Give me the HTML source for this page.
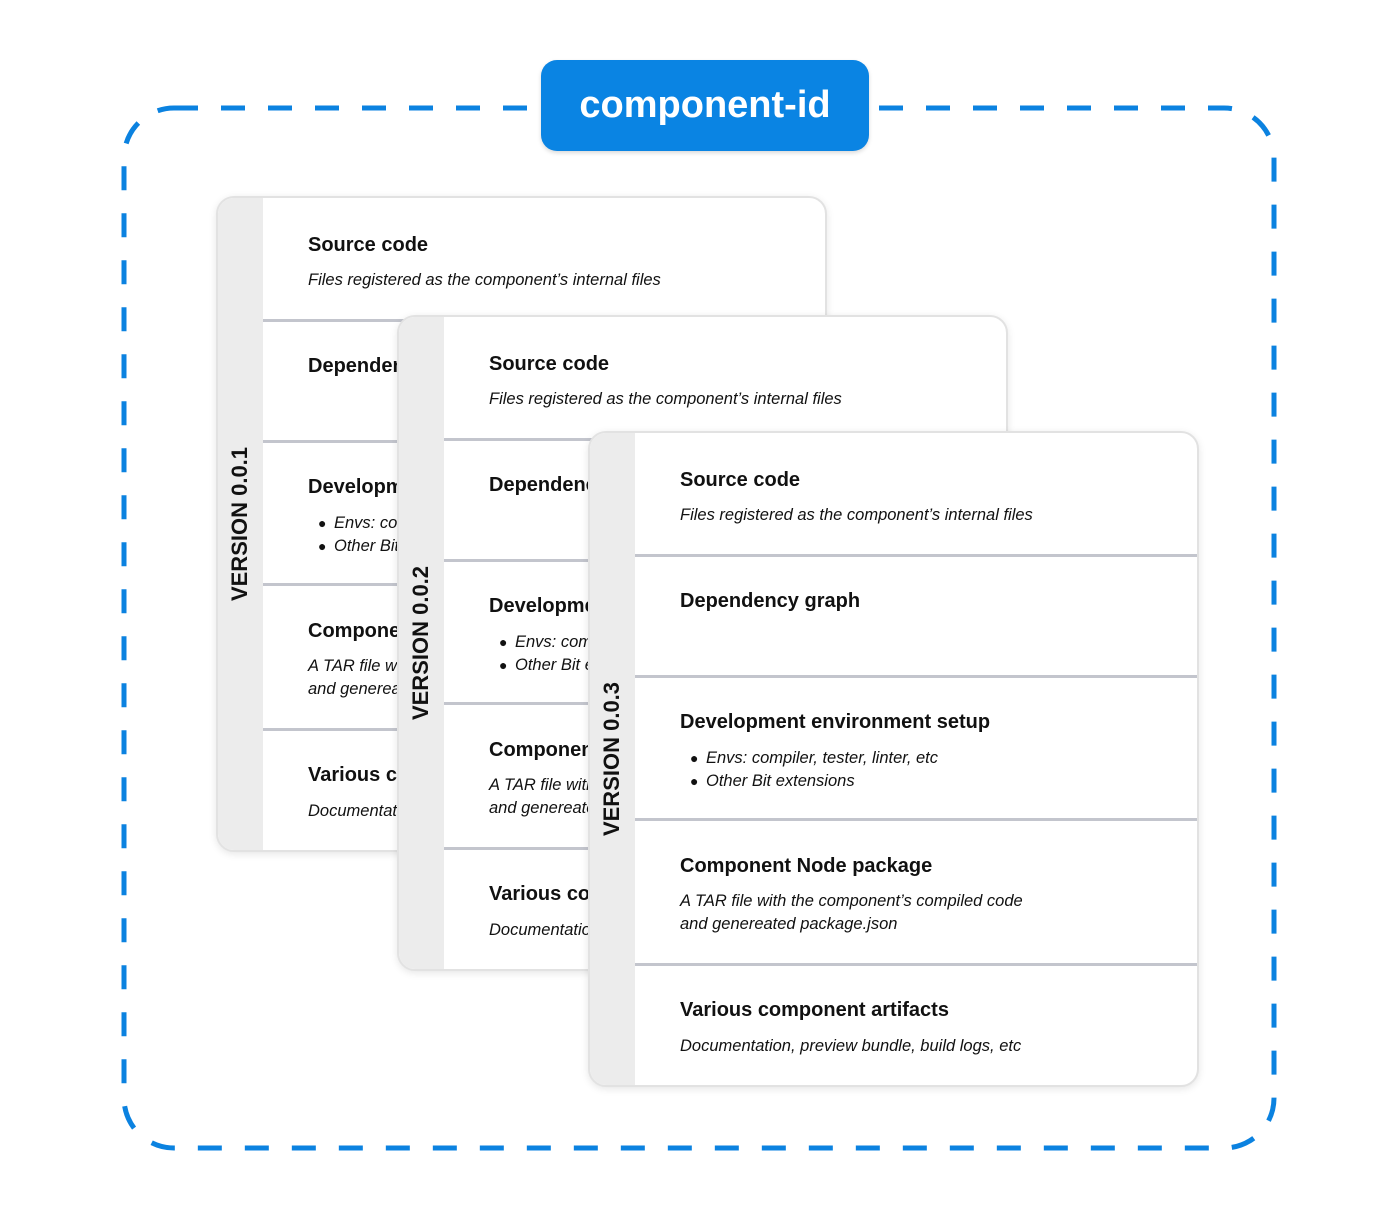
<!DOCTYPE html>
<html><head><meta charset="utf-8"><style>
*{margin:0;padding:0;box-sizing:border-box}
body{width:1400px;height:1212px;background:#fff;position:relative;overflow:hidden;font-family:"Liberation Sans",Arial,sans-serif;color:#111}
.hdr{position:absolute;left:541px;top:60px;width:328px;height:91px;background:#0a84e3;border-radius:16px;color:#fff;font-weight:bold;font-size:38px;text-align:center;line-height:91px;box-shadow:0 2px 4px rgba(0,0,0,.15)}
.card{position:absolute;width:611px;height:656px;background:#fff;border:2px solid #e2e2e2;border-radius:18px;overflow:hidden;box-shadow:0 2px 8px rgba(0,0,0,.10)}
.strip{position:absolute;left:0;top:0;width:45px;height:100%;background:#ececec}
.vl{position:absolute;left:22px;top:50%;transform:translate(-50%,-50%) rotate(-90deg);font-weight:bold;font-size:22px;white-space:nowrap;color:#111}
.div{position:absolute;left:45px;right:0;height:3px;background:#c3c5cd}
.t{position:absolute;left:90px;font-weight:bold;font-size:20px;line-height:24px;white-space:nowrap}
.s{position:absolute;left:90px;font-style:italic;font-size:16.5px;line-height:23px;white-space:nowrap}
.b{position:absolute;left:100px;font-size:14px;line-height:23px}
.bi{position:absolute;left:116px;font-style:italic;font-size:16.5px;line-height:23px;white-space:nowrap}
</style></head><body>
<svg width="1400" height="1212" style="position:absolute;left:0;top:0">
<rect x="124" y="108" width="1150" height="1040" rx="50" ry="50" fill="none" stroke="#0b82e0" stroke-width="5" stroke-dasharray="24 23"/>
</svg>
<div class="hdr">component-id</div>

<div class="card" style="left:216px;top:196px">
<div class="strip"></div><div class="vl">VERSION 0.0.1</div>
<div class="t" style="top:35px">Source code</div>
<div class="s" style="top:71px">Files registered as the component’s internal files</div>
<div class="div" style="top:121px"></div>
<div class="t" style="top:156px">Dependency graph</div>
<div class="div" style="top:242px"></div>
<div class="t" style="top:277px">Development environment setup</div>
<div class="b" style="top:314px">●</div><div class="bi" style="top:314px">Envs: compiler, tester, linter, etc</div>
<div class="b" style="top:337px">●</div><div class="bi" style="top:337px">Other Bit extensions</div>
<div class="div" style="top:385px"></div>
<div class="t" style="top:421px">Component Node package</div>
<div class="s" style="top:457px">A TAR file with the component’s compiled code</div>
<div class="s" style="top:480px">and genereated package.json</div>
<div class="div" style="top:530px"></div>
<div class="t" style="top:565px">Various component artifacts</div>
<div class="s" style="top:602px">Documentation, preview bundle, build logs, etc</div>
</div>

<div class="card" style="left:397px;top:315px">
<div class="strip"></div><div class="vl">VERSION 0.0.2</div>
<div class="t" style="top:35px">Source code</div>
<div class="s" style="top:71px">Files registered as the component’s internal files</div>
<div class="div" style="top:121px"></div>
<div class="t" style="top:156px">Dependency graph</div>
<div class="div" style="top:242px"></div>
<div class="t" style="top:277px">Development environment setup</div>
<div class="b" style="top:314px">●</div><div class="bi" style="top:314px">Envs: compiler, tester, linter, etc</div>
<div class="b" style="top:337px">●</div><div class="bi" style="top:337px">Other Bit extensions</div>
<div class="div" style="top:385px"></div>
<div class="t" style="top:421px">Component Node package</div>
<div class="s" style="top:457px">A TAR file with the component’s compiled code</div>
<div class="s" style="top:480px">and genereated package.json</div>
<div class="div" style="top:530px"></div>
<div class="t" style="top:565px">Various component artifacts</div>
<div class="s" style="top:602px">Documentation, preview bundle, build logs, etc</div>
</div>

<div class="card" style="left:588px;top:431px">
<div class="strip"></div><div class="vl">VERSION 0.0.3</div>
<div class="t" style="top:35px">Source code</div>
<div class="s" style="top:71px">Files registered as the component’s internal files</div>
<div class="div" style="top:121px"></div>
<div class="t" style="top:156px">Dependency graph</div>
<div class="div" style="top:242px"></div>
<div class="t" style="top:277px">Development environment setup</div>
<div class="b" style="top:314px">●</div><div class="bi" style="top:314px">Envs: compiler, tester, linter, etc</div>
<div class="b" style="top:337px">●</div><div class="bi" style="top:337px">Other Bit extensions</div>
<div class="div" style="top:385px"></div>
<div class="t" style="top:421px">Component Node package</div>
<div class="s" style="top:457px">A TAR file with the component’s compiled code</div>
<div class="s" style="top:480px">and genereated package.json</div>
<div class="div" style="top:530px"></div>
<div class="t" style="top:565px">Various component artifacts</div>
<div class="s" style="top:602px">Documentation, preview bundle, build logs, etc</div>
</div>
</body></html>
